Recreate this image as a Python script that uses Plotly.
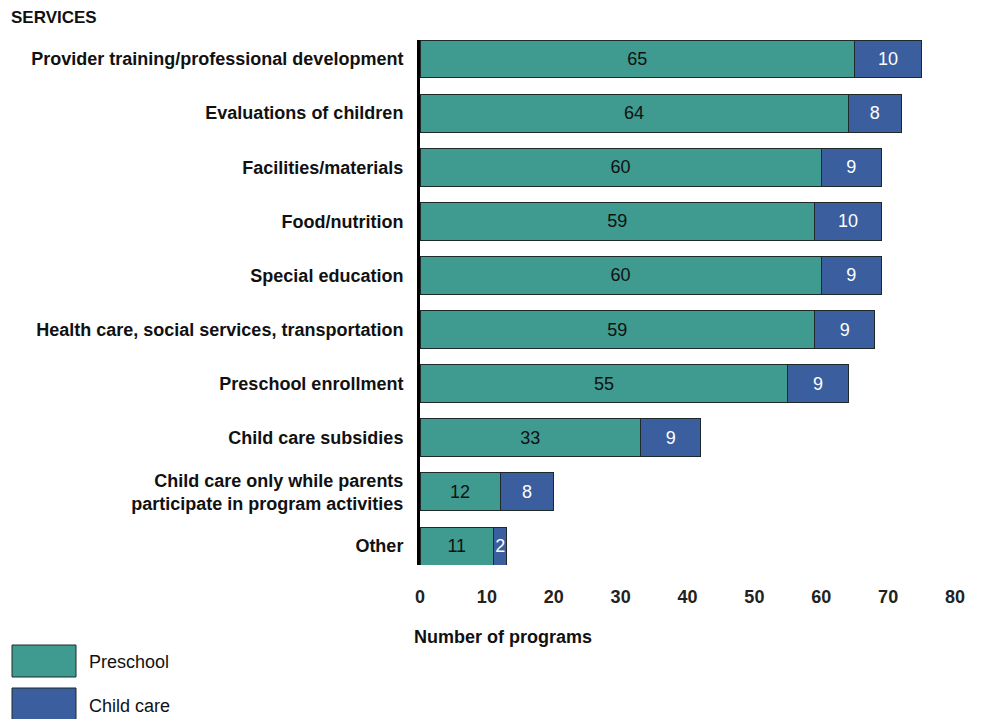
import plotly.graph_objects as go

categories = [
    "Provider training/professional development",
    "Evaluations of children",
    "Facilities/materials",
    "Food/nutrition",
    "Special education",
    "Health care, social services, transportation",
    "Preschool enrollment",
    "Child care subsidies",
    "Child care only while parents<br>participate in program activities",
    "Other",
]
preschool = [65, 64, 60, 59, 60, 59, 55, 33, 12, 11]
child_care = [10, 8, 9, 10, 9, 9, 9, 9, 8, 2]
x_ticks = [0, 10, 20, 30, 40, 50, 60, 70, 80]

TEAL = "#3f9a8f"
BLUE = "#3a5e9e"
EDGE = "#1e2a2a"
FONT = "Liberation Sans, Arial, sans-serif"

OFF = 8  # page body margin
W, H = 982 - OFF, 719 - OFF
# target plot area in page pixels: x 420..955, y 40..565
L, R, T, B = 420 - OFF, W - (955 - OFF), 40 - OFF, H - (565 - OFF)
PW, PH = W - L - R, H - T - B

def px(x):
    return (x - OFF - L) / PW

def py(y):
    return (H - B - (y - OFF)) / PH

fig = go.Figure()
fig.add_trace(go.Bar(
    y=categories, x=preschool, orientation="h", name="Preschool",
    marker=dict(color=TEAL, line=dict(color=EDGE, width=1)),
    text=[str(v) for v in preschool], textposition="inside",
    insidetextanchor="middle",
    textfont=dict(family=FONT, size=18, color="#111111"),
))
fig.add_trace(go.Bar(
    y=categories, x=child_care, orientation="h", name="Child care",
    marker=dict(color=BLUE, line=dict(color=EDGE, width=1)),
    text=[str(v) for v in child_care], textposition="inside",
    insidetextanchor="middle",
    textfont=dict(family=FONT, size=18, color="white"),
))

fig.update_layout(
    width=W, height=H,
    margin=dict(l=L, r=R, t=T, b=B),
    barmode="stack", bargap=0.3,
    showlegend=False,
    plot_bgcolor="white", paper_bgcolor="white",
    font=dict(family=FONT, color="#111111"),
    uniformtext=dict(minsize=18, mode="show"),
)
fig.update_xaxes(
    range=[0, 80], tickvals=x_ticks, ticktext=[str(v) for v in x_ticks],
    showgrid=False, zeroline=False, showline=False,
    ticks="outside", ticklen=15, tickcolor="rgba(0,0,0,0)",
    tickfont=dict(family=FONT, size=18, color="#222222", weight="bold"),
)
fig.update_yaxes(
    type="category", categoryorder="array", categoryarray=categories,
    range=[9.35, -0.35],
    showgrid=False, zeroline=False,
    showline=True, linecolor="black", linewidth=3,
    ticks="outside", ticklen=10, tickcolor="rgba(0,0,0,0)",
    tickfont=dict(family=FONT, size=18, color="#111111", weight="bold"),
)

annotations = [
    dict(text="<b>SERVICES</b>", x=px(9), y=py(17), xanchor="left", yanchor="middle",
         font=dict(size=17, family=FONT, color="#111111")),
    dict(text="<b>Number of programs</b>", x=px(412), y=py(637), xanchor="left", yanchor="middle",
         font=dict(size=18, family=FONT, color="#111111")),
    dict(text="Preschool", x=px(87), y=py(662), xanchor="left", yanchor="middle",
         font=dict(size=18, family=FONT, color="#111111")),
    dict(text="Child care", x=px(87), y=py(706), xanchor="left", yanchor="middle",
         font=dict(size=18, family=FONT, color="#111111")),
]
for a in annotations:
    a.update(xref="paper", yref="paper", showarrow=False)
fig.update_layout(annotations=annotations)

shapes = [
    dict(type="rect", x0=px(12), x1=px(76), y0=py(677), y1=py(645),
         fillcolor=TEAL, line=dict(color=EDGE, width=1)),
    dict(type="rect", x0=px(12), x1=px(76), y0=py(722), y1=py(688),
         fillcolor=BLUE, line=dict(color=EDGE, width=1)),
]
for s in shapes:
    s.update(xref="paper", yref="paper")
fig.update_layout(shapes=shapes)

fig.write_html("out.html")
